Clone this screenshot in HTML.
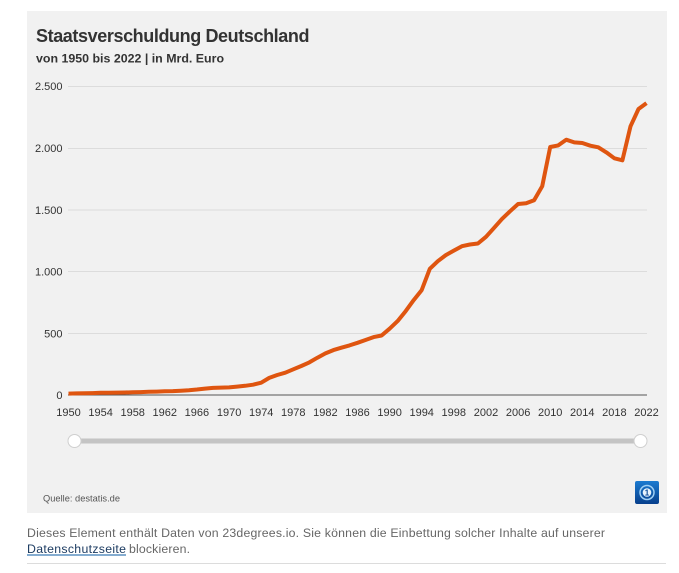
<!DOCTYPE html>
<html><head><meta charset="utf-8"><style>
html,body{margin:0;padding:0;background:#fff;}
body{width:679px;height:573px;overflow:hidden;position:relative;font-family:"Liberation Sans",sans-serif;}
svg{position:absolute;left:0;top:0;}
</style></head><body>
<svg width="679" height="573" viewBox="0 0 679 573" xmlns="http://www.w3.org/2000/svg" font-family="Liberation Sans, sans-serif">
<rect x="27" y="11" width="640" height="502" fill="#f1f1f1"/>
<text x="36" y="42" font-size="18" font-weight="bold" fill="#333" letter-spacing="-0.4">Staatsverschuldung Deutschland</text>
<text x="36" y="62.5" font-size="12.4" font-weight="bold" fill="#333">von 1950 bis 2022 | in Mrd. Euro</text>
<g stroke="#dcdcdc" stroke-width="1">
<line x1="68" y1="86.5" x2="647" y2="86.5"/>
<line x1="68" y1="148.5" x2="647" y2="148.5"/>
<line x1="68" y1="210" x2="647" y2="210"/>
<line x1="68" y1="271.5" x2="647" y2="271.5"/>
<line x1="68" y1="333.5" x2="647" y2="333.5"/>
</g>
<line x1="68" y1="395" x2="647" y2="395" stroke="#555" stroke-width="1"/>
<g font-size="11" fill="#333" text-anchor="end">
<text x="62.5" y="90">2.500</text>
<text x="62.5" y="152">2.000</text>
<text x="62.5" y="214">1.500</text>
<text x="62.5" y="275.5">1.000</text>
<text x="62.5" y="337.5">500</text>
<text x="62.5" y="399">0</text>
</g>
<g font-size="11" fill="#333" text-anchor="middle">
<text x="68.5" y="416">1950</text>
<text x="100.6" y="416">1954</text>
<text x="132.7" y="416">1958</text>
<text x="164.8" y="416">1962</text>
<text x="196.9" y="416">1966</text>
<text x="229.1" y="416">1970</text>
<text x="261.2" y="416">1974</text>
<text x="293.3" y="416">1978</text>
<text x="325.4" y="416">1982</text>
<text x="357.5" y="416">1986</text>
<text x="389.6" y="416">1990</text>
<text x="421.7" y="416">1994</text>
<text x="453.8" y="416">1998</text>
<text x="486" y="416">2002</text>
<text x="518.1" y="416">2006</text>
<text x="550.2" y="416">2010</text>
<text x="582.3" y="416">2014</text>
<text x="614.4" y="416">2018</text>
<text x="646.5" y="416">2022</text>
</g>
<polyline fill="none" stroke="#df5510" stroke-width="4" stroke-linejoin="round" stroke-linecap="butt" points="68.5,393.6 76.5,393.4 84.6,393.3 92.6,393.1 100.6,392.8 108.6,392.7 116.7,392.6 124.7,392.5 132.7,392.3 140.8,392.1 148.8,391.8 156.8,391.6 164.8,391.3 172.9,391.1 180.9,390.7 188.9,390.2 196.9,389.5 205,388.6 213,387.9 221,387.6 229.1,387.4 237.1,386.6 245.1,385.8 253.1,384.7 261.2,382.7 269.2,377.9 277.2,375 285.3,372.7 293.3,369.3 301.3,366 309.3,362.4 317.4,357.7 325.4,353.4 333.4,350.1 341.4,347.7 349.5,345.4 357.5,342.8 365.5,340 373.6,337.1 381.6,335.5 389.6,328.7 397.6,321.1 405.7,311.1 413.7,300.1 421.7,290.1 429.8,268.8 437.8,261.2 445.8,255.1 453.8,250.6 461.9,246.2 469.9,244.5 477.9,243.5 486,236.8 494,227.9 502,218.9 510,211.3 518.1,204 526.1,203.3 534.1,200.2 542.2,186.3 550.2,147 558.2,145.4 566.2,139.7 574.3,142.4 582.3,143 590.3,145.7 598.3,147.3 606.4,152.4 614.4,158.3 622.4,160.3 630.5,126.3 638.5,109 646.5,103.1"/>
<rect x="74" y="438.5" width="566" height="5" fill="#c4c4c4"/>
<circle cx="74.5" cy="441" r="6.5" fill="#fff" stroke="#cfcfcf" stroke-width="1"/>
<circle cx="640.5" cy="441" r="6.5" fill="#fff" stroke="#cfcfcf" stroke-width="1"/>
<text x="43" y="501.5" font-size="9.3" fill="#555">Quelle: destatis.de</text>
<defs><linearGradient id="g" x1="0" y1="0" x2="0" y2="1"><stop offset="0" stop-color="#1c7bd0"/><stop offset="1" stop-color="#073f8c"/></linearGradient></defs>
<rect x="635" y="481" width="24" height="23" rx="2" fill="url(#g)"/>
<circle cx="647" cy="492.5" r="7" fill="none" stroke="#9fd0f5" stroke-width="1.5"/>
<circle cx="647" cy="492.5" r="4.3" fill="#e8f4fd"/>
<text x="647" y="495.5" font-size="8" font-weight="bold" fill="#0b4a96" text-anchor="middle">1</text>
<text x="27" y="537" font-size="12.3" fill="#666" textLength="578" lengthAdjust="spacing">Dieses Element enthält Daten von 23degrees.io. Sie können die Einbettung solcher Inhalte auf unserer</text>
<text x="27" y="553" font-size="12.3" fill="#1d3c62" textLength="99" lengthAdjust="spacing">Datenschutzseite</text>
<text x="129" y="553" font-size="12.3" fill="#666" textLength="61" lengthAdjust="spacing">blockieren.</text>
<line x1="27" y1="555" x2="126" y2="555" stroke="#0a5aa0" stroke-width="1"/>
<line x1="27" y1="563.5" x2="666" y2="563.5" stroke="#dcdcdc" stroke-width="1"/>
</svg>
</body></html>
